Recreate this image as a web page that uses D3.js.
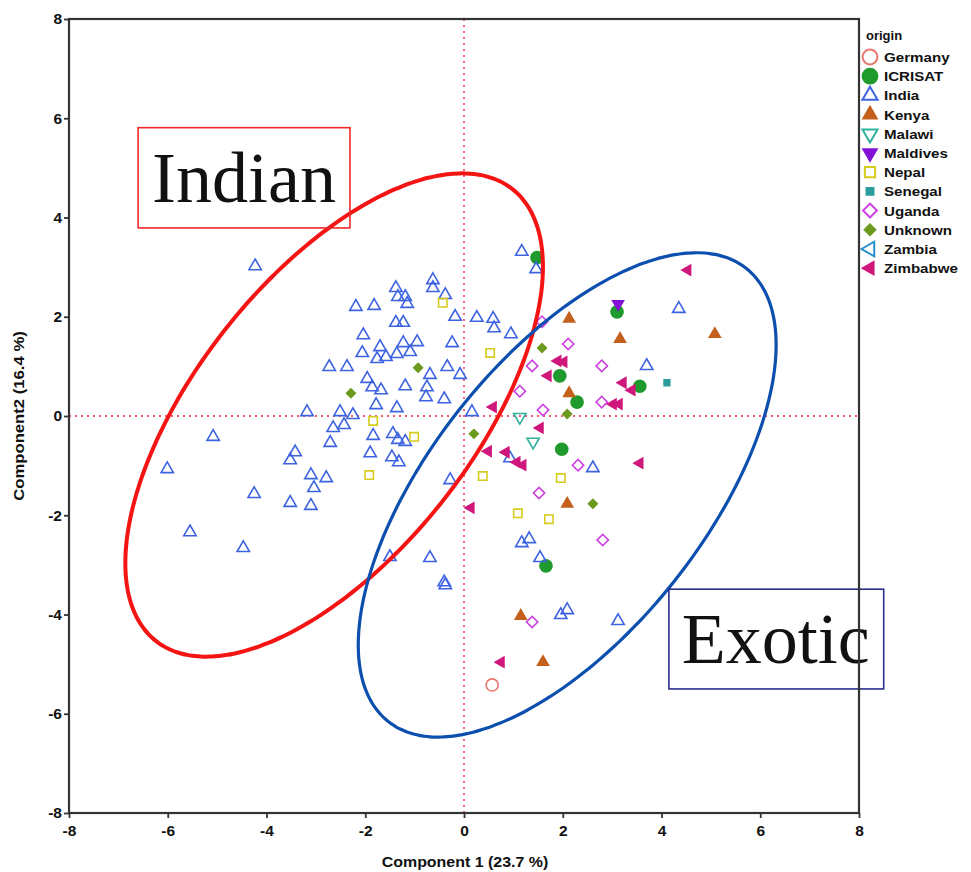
<!DOCTYPE html>
<html>
<head>
<meta charset="utf-8">
<script src="https://cdn.jsdelivr.net/npm/d3@7"></script>
<style>
  body { margin: 0; background: #fff; }
  svg { display: block; }
</style>
</head>
<body>
<script>

// legend order
var origins = ["Germany", "ICRISAT", "India", "Kenya", "Malawi", "Maldives",
  "Nepal", "Senegal", "Uganda", "Unknown", "Zambia", "Zimbabwe"];

// [component1, component2] per accession
var germany = [[0.57, -5.42]];

var icrisat = [[1.48, 3.19], [3.10, 2.10], [1.94, 0.81], [2.29, 0.28], [3.56, 0.60],
  [1.98, -0.67], [1.66, -3.02]];

var india = [[-4.23, 3.02], [-0.63, 2.74], [-0.63, 2.58], [-1.38, 2.58], [-1.34, 2.40],
  [-1.19, 2.40], [-1.15, 2.26], [-0.38, 2.44], [-2.19, 2.20], [-1.82, 2.22], [-0.18, 2.00],
  [0.26, 1.98], [-1.38, 1.88], [-1.23, 1.88], [-2.04, 1.63], [-0.24, 1.47], [-1.70, 1.39],
  [-1.23, 1.47], [-0.95, 1.49], [-1.09, 1.29], [-1.36, 1.25], [-1.58, 1.19], [-1.76, 1.15],
  [-2.06, 1.27], [-2.73, 0.99], [-2.37, 0.99], [-0.34, 0.99], [-0.69, 0.83], [-0.08, 0.83],
  [-1.96, 0.75], [-1.86, 0.58], [-1.68, 0.52], [-1.19, 0.60], [-0.75, 0.58], [-0.77, 0.38],
  [-0.40, 0.34], [-1.78, 0.22], [-1.36, 0.16], [-2.51, 0.08], [-2.25, 0.02], [-3.18, 0.08],
  [0.16, 0.08], [-2.65, -0.24], [-2.43, -0.18], [-5.08, -0.42], [-1.84, -0.40], [-1.44, -0.36],
  [-1.34, -0.48], [-1.19, -0.52], [-2.71, -0.54], [-3.42, -0.73], [-3.52, -0.89], [-1.90, -0.75],
  [-1.46, -0.83], [-1.32, -0.93], [-6.01, -1.07], [-3.10, -1.19], [-2.79, -1.25], [-3.04, -1.45],
  [-4.25, -1.57], [-3.52, -1.75], [-3.10, -1.81], [-5.55, -2.34], [-4.47, -2.66], [-1.50, -2.84],
  [1.17, 3.31], [1.46, 2.96], [0.59, 1.96], [0.61, 1.77], [0.95, 1.65], [-0.28, -1.29],
  [0.93, -0.85], [2.61, -1.05], [1.17, -2.56], [1.32, -2.48], [1.54, -2.86], [-0.69, -2.86],
  [-0.40, -3.35], [-0.38, -3.41], [1.96, -4.01], [2.09, -3.91], [3.12, -4.13], [3.70, 1.01],
  [4.35, 2.16]];

var kenya = [[2.13, 1.96], [3.16, 1.55], [2.13, 0.46], [5.08, 1.65], [2.09, -1.77],
  [1.15, -4.03], [1.60, -4.96]];

var malawi = [[1.13, -0.02], [1.40, -0.52]];

var maldives = [[3.12, 2.26]];

var nepal = [[-0.43, 2.28], [-1.84, -0.10], [-1.01, -0.42], [-1.92, -1.19], [0.53, 1.27],
  [0.38, -1.21], [1.96, -1.25], [1.09, -1.96], [1.72, -2.08]];

var senegal = [[4.11, 0.67]];

var uganda = [[1.58, 1.90], [2.11, 1.45], [1.38, 1.01], [2.79, 1.01], [1.13, 0.50],
  [1.60, 0.12], [2.79, 0.28], [2.31, -0.99], [1.52, -1.55], [2.81, -2.50], [1.38, -4.15]];

var unknown = [[-0.93, 0.97], [-2.29, 0.46], [0.20, -0.36], [1.58, 1.37], [2.09, 0.04],
  [2.61, -1.77]];

var zambia = [];

var zimbabwe = [[1.90, 1.11], [2.02, 1.09], [1.70, 0.81], [0.59, 0.18], [3.22, 0.67],
  [3.40, 0.52], [3.02, 0.24], [3.14, 0.24], [1.54, -0.24], [0.49, -0.71], [0.85, -0.73],
  [1.07, -0.93], [1.19, -0.99], [3.56, -0.95], [4.53, 2.94], [0.14, -1.85], [0.75, -4.96]];

var pointsByOrigin = {
  Germany: germany, ICRISAT: icrisat, India: india, Kenya: kenya, Malawi: malawi,
  Maldives: maldives, Nepal: nepal, Senegal: senegal, Uganda: uganda, Unknown: unknown,
  Zambia: zambia, Zimbabwe: zimbabwe
};

var tickValues = [-8, -6, -4, -2, 0, 2, 4, 6, 8];

// group ellipses: centre, semi axes, angle (degrees)
var ellipseIndian = { cx: -2.63, cy: 0.02, a: 5.81, b: 2.80, angle: 51.5 };
var ellipseExotic = { cx: 2.09, cy: -1.59, a: 5.83, b: 2.78, angle: 51.5 };

// marker look per origin
var markStyle = {
  Germany:  { shape: d3.symbolCircle,   rot: 0,   size: 115, fill: "none",    stroke: "#e8776f" },
  ICRISAT:  { shape: d3.symbolCircle,   rot: 0,   size: 115, fill: "#1f9a2c", stroke: "#1f9a2c" },
  India:    { shape: d3.symbolTriangle, rot: 0,   size: 66,  fill: "none",    stroke: "#3d63e0" },
  Kenya:    { shape: d3.symbolTriangle, rot: 0,   size: 52,  fill: "#c4601c", stroke: "#c4601c" },
  Malawi:   { shape: d3.symbolTriangle, rot: 180, size: 66,  fill: "none",    stroke: "#2fb39c" },
  Maldives: { shape: d3.symbolTriangle, rot: 180, size: 52,  fill: "#8412d6", stroke: "#8412d6" },
  Nepal:    { shape: d3.symbolSquare,   rot: 0,   size: 70,  fill: "none",    stroke: "#d6cc1e" },
  Senegal:  { shape: d3.symbolSquare,   rot: 0,   size: 32,  fill: "#2a9c9c", stroke: "#2a9c9c" },
  Uganda:   { shape: d3.symbolSquare,   rot: 45,  size: 64,  fill: "none",    stroke: "#cc3fe0" },
  Unknown:  { shape: d3.symbolSquare,   rot: 45,  size: 38,  fill: "#6b9a1e", stroke: "#6b9a1e" },
  Zambia:   { shape: d3.symbolTriangle, rot: -90, size: 62,  fill: "none",    stroke: "#2b8fca" },
  Zimbabwe: { shape: d3.symbolTriangle, rot: -90, size: 44,  fill: "#cf177c", stroke: "#cf177c" }
};

const W = 971, H = 872;
const plotLeft = 69, plotRight = 859, plotTop = 19, plotBottom = 813;

var svg = d3.select("body").append("svg")
  .attr("width", W)
  .attr("height", H);

var x = d3.scaleLinear().domain([-8, 8]).range([plotLeft, plotRight]);
var y = d3.scaleLinear().domain([-8, 8]).range([plotBottom, plotTop]);

// reference lines at zero
svg.append("line")
  .attr("x1", x(-8)).attr("x2", x(8))
  .attr("y1", y(0)).attr("y2", y(0))
  .attr("stroke", "#f25a6a").attr("stroke-width", 1.8)
  .attr("stroke-dasharray", "2,4");
svg.append("line")
  .attr("x1", x(0)).attr("x2", x(0))
  .attr("y1", y(-8)).attr("y2", y(8))
  .attr("stroke", "#f25a6a").attr("stroke-width", 1.8)
  .attr("stroke-dasharray", "2,4");

// points
var allPoints = [];
origins.forEach(function (o) {
  pointsByOrigin[o].forEach(function (p) { allPoints.push({ origin: o, x: p[0], y: p[1] }); });
});

svg.append("g").selectAll("path")
  .data(allPoints)
  .enter()
  .append("path")
  .attr("d", (d) => d3.symbol().type(markStyle[d.origin].shape).size(markStyle[d.origin].size)())
  .attr("transform", (d) => "translate(" + x(d.x) + "," + y(d.y) + ") rotate(" + markStyle[d.origin].rot + ")")
  .attr("fill", (d) => markStyle[d.origin].fill)
  .attr("stroke", (d) => markStyle[d.origin].stroke)
  .attr("stroke-width", 1.6);

// ellipses
function ellipsePoints(e) {
  var th = e.angle * Math.PI / 180;
  return d3.range(0, 360, 2).map(function (t) {
    var r = t * Math.PI / 180;
    var ex = e.a * Math.cos(r), ey = e.b * Math.sin(r);
    return [e.cx + ex * Math.cos(th) - ey * Math.sin(th),
            e.cy + ex * Math.sin(th) + ey * Math.cos(th)];
  });
}
var line = d3.line().x((d) => x(d[0])).y((d) => y(d[1])).curve(d3.curveCardinalClosed);

svg.append("path")
  .attr("d", line(ellipsePoints(ellipseIndian)))
  .attr("fill", "none").attr("stroke", "#f41414").attr("stroke-width", 4);
svg.append("path")
  .attr("d", line(ellipsePoints(ellipseExotic)))
  .attr("fill", "none").attr("stroke", "#0c4fae").attr("stroke-width", 3.2);

// group labels
function labelBox(x0, x1, y0, y1, tx, ty, txt, col) {
  svg.append("rect")
    .attr("x", x(x0)).attr("y", y(y0))
    .attr("width", x(x1) - x(x0)).attr("height", y(y1) - y(y0))
    .attr("fill", "none").attr("stroke", col).attr("stroke-width", 1.6);
  svg.append("text")
    .attr("x", x(tx)).attr("y", y(ty))
    .attr("font-family", "'Liberation Serif', 'Times New Roman', serif")
    .attr("font-size", 72)
    .attr("fill", "#111")
    .text(txt);
}
labelBox(-6.60, -2.31, 5.81, 3.79, -6.32, 4.31, "Indian", "#f0282a");
labelBox(4.15, 8.50, -3.49, -5.50, 4.41, -4.98, "Exotic", "#2c2f8a");

// frame
svg.append("rect")
  .attr("x", plotLeft).attr("y", plotTop)
  .attr("width", plotRight - plotLeft).attr("height", plotBottom - plotTop)
  .attr("fill", "none").attr("stroke", "#333").attr("stroke-width", 2.2);

// axes
var xAxis = d3.axisBottom(x).tickValues(tickValues).tickSize(5).tickPadding(7)
  .tickFormat((d) => String(d));
var yAxis = d3.axisLeft(y).tickValues(tickValues).tickSize(5).tickPadding(2)
  .tickFormat((d) => String(d));

var gx = svg.append("g").attr("transform", "translate(0," + plotBottom + ")").call(xAxis);
var gy = svg.append("g").attr("transform", "translate(" + plotLeft + ",0)").call(yAxis);
[gx, gy].forEach(function (g) {
  g.select(".domain").remove();
  g.selectAll(".tick line").attr("stroke", "#333").attr("stroke-width", 1.8);
  g.selectAll(".tick text")
    .attr("font-family", "'Liberation Sans', Arial, sans-serif")
    .attr("font-size", 15.5)
    .attr("font-weight", "bold")
    .attr("fill", "#111");
});

function stretch(sel, factor) {
  sel.each(function () {
    var len = this.getComputedTextLength();
    d3.select(this).attr("textLength", len * factor).attr("lengthAdjust", "spacingAndGlyphs");
  });
}

// axis titles
var xt = svg.append("text")
  .attr("x", (plotLeft + plotRight) / 2 + 1).attr("y", 867)
  .attr("text-anchor", "middle")
  .attr("font-family", "'Liberation Sans', Arial, sans-serif")
  .attr("font-size", 14.5).attr("font-weight", "bold").attr("fill", "#111")
  .text("Component 1 (23.7 %)");
var yt = svg.append("text")
  .attr("transform", "translate(24," + 416 + ") rotate(-90)")
  .attr("text-anchor", "middle")
  .attr("font-family", "'Liberation Sans', Arial, sans-serif")
  .attr("font-size", 14.5).attr("font-weight", "bold").attr("fill", "#111")
  .text("Component2 (16.4 %)");
stretch(xt, 1.1);
stretch(yt, 1.15);

// legend
var legend = svg.append("g");
legend.append("text")
  .attr("x", 866).attr("y", 40)
  .attr("font-family", "'Liberation Sans', Arial, sans-serif")
  .attr("font-size", 13).attr("font-weight", "bold").attr("fill", "#111")
  .text("origin");

var rows = legend.selectAll("g.row")
  .data(origins)
  .enter()
  .append("g")
  .attr("class", "row")
  .attr("transform", (d, i) => "translate(870," + (57 + i * 19.2) + ")");

rows.append("path")
  .attr("d", (d) => d3.symbol().type(markStyle[d].shape).size(markStyle[d].size * 1.5)())
  .attr("transform", (d) => "rotate(" + markStyle[d].rot + ")")
  .attr("fill", (d) => markStyle[d].fill)
  .attr("stroke", (d) => markStyle[d].stroke)
  .attr("stroke-width", 2);

var lt = rows.append("text")
  .attr("x", 14).attr("y", 5)
  .attr("font-family", "'Liberation Sans', Arial, sans-serif")
  .attr("font-size", 13.5).attr("font-weight", "bold").attr("fill", "#111")
  .text((d) => d);
stretch(lt, 1.12);

</script>
</body>
</html>
